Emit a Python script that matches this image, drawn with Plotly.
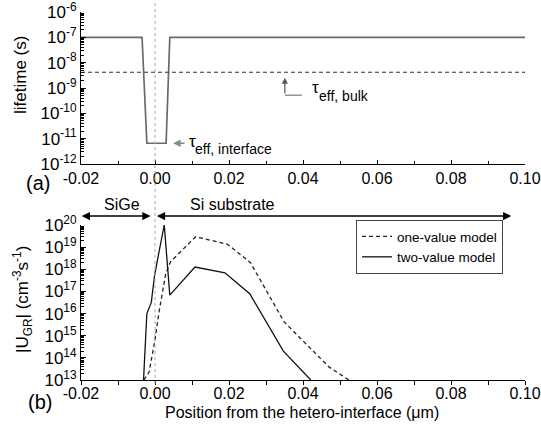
import plotly.graph_objects as go

# ---------------- data ----------------
# panel (a): lifetime profiles
x_tau = [-0.02, -0.0035, -0.0022, 0.0030, 0.0040, 0.10]
tau_two_value = [1e-7, 1e-7, 6.6e-12, 6.6e-12, 1e-7, 1e-7]
x_bulk = [-0.02, 0.10]
tau_bulk = [4.2e-9, 4.2e-9]

# panel (b): |U_GR| profiles
x_one = [-0.0030, -0.0016, -0.0001, 0.0011, 0.0029, 0.0042, 0.0110, 0.0196,
         0.0258, 0.0349, 0.0470, 0.0524]
ugr_one = [1.0e13, 2.3e13, 5.2e14, 1.2e16, 6.3e17, 2.2e18, 2.95e19, 1.35e19,
           2.0e18, 4.2e15, 3.9e13, 1.0e13]
x_two = [-0.0031, -0.0022, -0.0010, -0.0001, 0.0011, 0.0025, 0.0040, 0.0108,
         0.0189, 0.0256, 0.0347, 0.0421]
ugr_two = [1.0e13, 1.0e16, 3.2e16, 5.5e17, 6.3e18, 1.0e20, 6.8e16, 1.26e18,
           6.9e17, 7.9e16, 2.0e14, 1.0e13]

x_ticks = [-0.02, 0.00, 0.02, 0.04, 0.06, 0.08, 0.10]
x_ticklabels = ["-0.02", "0.00", "0.02", "0.04", "0.06", "0.08", "0.10"]
top_exps = [-12, -11, -10, -9, -8, -7, -6]
bot_exps = [13, 14, 15, 16, 17, 18, 19, 20]

# region arrows (x positions)
sige_span = [-0.0198, -0.0008]
si_span = [0.0005, 0.0967]
# tau_eff bulk marker
bulk_arrow_x = 0.0351
bulk_hook_x = [0.0351, 0.0397]
bulk_hook_y = [5.2e-10, 5.2e-10]

FONT = "Liberation Sans, Arial, sans-serif"
W, H = 541, 425


def minor_vals(exps):
    out = []
    for e in exps[:-1]:
        for m in range(2, 10):
            out.append(m * 10.0 ** e)
    return out


fig = go.Figure()

# panel (a)
fig.add_trace(go.Scatter(x=x_tau, y=tau_two_value, mode="lines",
                         line=dict(color="#6a6a6a", width=1.7), showlegend=False,
                         xaxis="x", yaxis="y"))
fig.add_trace(go.Scatter(x=x_bulk, y=tau_bulk, mode="lines",
                         line=dict(color="#333333", width=1.1, dash="4px,3px"),
                         showlegend=False, xaxis="x", yaxis="y"))
fig.add_trace(go.Scatter(x=bulk_hook_x, y=bulk_hook_y, mode="lines",
                         line=dict(color="#777777", width=1.2),
                         showlegend=False, xaxis="x", yaxis="y"))

# panel (b)
fig.add_trace(go.Scatter(x=x_one, y=ugr_one, mode="lines", name="one-value model",
                         line=dict(color="#222222", width=1.3, dash="4px,3px"),
                         xaxis="x2", yaxis="y2"))
fig.add_trace(go.Scatter(x=x_two, y=ugr_two, mode="lines", name="two-value model",
                         line=dict(color="#111111", width=1.3),
                         xaxis="x2", yaxis="y2"))

xdom = [81 / W, 525 / W]
ydom_top = [1 - 164 / H, 1 - 12 / H]
ydom_bot = [1 - 380 / H, 1 - 225 / H]

axis_common = dict(showline=True, linecolor="black", linewidth=1, showgrid=False,
                   zeroline=False, automargin=False, tickcolor="black",
                   ticklabeloverflow="allow")
xfont = dict(family=FONT, size=16, color="black")
yfont = dict(family=FONT, size=17, color="black")

fig.update_layout(
    template="none",
    width=W, height=H, margin=dict(l=0, r=0, t=0, b=0, pad=0),
    paper_bgcolor="white", plot_bgcolor="white",
    font=dict(family=FONT, color="black"),
    xaxis=dict(domain=xdom, range=[-0.02, 0.10], anchor="y", tickfont=xfont,
               tickvals=x_ticks, ticktext=x_ticklabels, ticks="inside", ticklen=4,
               minor=dict(dtick=0.01, tick0=0, ticks="inside", ticklen=3, tickcolor="black"),
               **axis_common),
    yaxis=dict(domain=ydom_top, type="log", range=[-12, -6], anchor="x", tickfont=yfont,
               tickvals=[10.0 ** e for e in top_exps],
               ticktext=["10<sup>%d</sup>" % e for e in top_exps],
               ticks="inside", ticklen=5,
               minor=dict(tickvals=minor_vals(top_exps), ticks="inside", ticklen=3,
                          tickcolor="black"),
               **axis_common),
    xaxis2=dict(domain=xdom, range=[-0.02, 0.10], anchor="y2", tickfont=xfont,
                tickvals=x_ticks, ticktext=x_ticklabels, ticks="outside", ticklen=4,
                ticklabelstandoff=-5,
                minor=dict(dtick=0.01, tick0=0, ticks="outside", ticklen=4, tickcolor="black"),
                **axis_common),
    yaxis2=dict(domain=ydom_bot, type="log", range=[13, 20], anchor="x2", tickfont=yfont,
                tickvals=[10.0 ** e for e in bot_exps],
                ticktext=["10<sup>%d</sup>" % e for e in bot_exps],
                ticks="inside", ticklen=5,
                minor=dict(tickvals=minor_vals(bot_exps), ticks="inside", ticklen=3,
                           tickcolor="black"),
                **axis_common),
    legend=dict(x=356 / W, y=1 - 220 / H, xanchor="left", yanchor="top",
                bgcolor="white", bordercolor="#444444", borderwidth=1,
                font=dict(family=FONT, size=13.5, color="black"),
                itemwidth=30, tracegroupgap=0),
    showlegend=True,
)

# vertical interface marker
fig.add_shape(type="line", xref="x", yref="paper", x0=0, x1=0,
              y0=1 - 384 / H, y1=1, line=dict(color="#aaaaaa", width=1, dash="3px,3px"))

C = dict(xanchor="center", yanchor="middle", showarrow=False, xref="paper", yref="paper")
ann = []
# panel labels
ann.append(dict(text="(a)", x=38 / W, y=1 - 183 / H, font=dict(size=20), **C))
ann.append(dict(text="(b)", x=40 / W, y=1 - 402 / H, font=dict(size=20), **C))
# axis titles
ann.append(dict(text="lifetime (s)", x=20 / W, y=1 - 75 / H, textangle=-90,
                font=dict(size=17), **C))
ann.append(dict(text="|U<sub>GR</sub>| (cm<sup>-3</sup>s<sup>-1</sup>)", x=22 / W,
                y=1 - 300 / H, textangle=-90, font=dict(size=17), **C))
ann.append(dict(text="Position from the hetero-interface (\u03bcm)", x=302 / W,
                y=1 - 412 / H, font=dict(size=16), **C))
# region labels and arrows
ann.append(dict(text="SiGe", x=122 / W, y=1 - 204 / H, font=dict(size=16), **C))
ann.append(dict(text="Si substrate", x=232 / W, y=1 - 204 / H, font=dict(size=16), **C))
for span in (sige_span, si_span):
    ann.append(dict(text="", x=span[0], y=1 - 216 / H, xref="x2", yref="paper",
                    ax=span[1], axref="x2", ay=0, ayref="pixel", showarrow=True,
                    arrowhead=2, arrowside="end+start", arrowsize=1.1, arrowwidth=1.5,
                    arrowcolor="black"))
# tau annotations
ann.append(dict(text="", x=0.0049, y=-11.18, xref="x", yref="y", ax=13, ay=0,
                showarrow=True, arrowhead=2, arrowsize=1, arrowwidth=1.5,
                arrowcolor="#888888"))
ann.append(dict(text="\u03c4", x=0.0086, y=-11.1, xref="x", yref="y",
                xanchor="left", yanchor="middle", showarrow=False, font=dict(size=17)))
ann.append(dict(text="eff, interface", x=0.0104, y=-11.42, xref="x", yref="y",
                xanchor="left", yanchor="middle", showarrow=False, font=dict(size=14)))
ann.append(dict(text="", x=bulk_arrow_x, y=-8.6, xref="x", yref="y", ax=0, ay=17,
                showarrow=True, arrowhead=2, arrowsize=1, arrowwidth=1.2,
                arrowcolor="#555555"))
ann.append(dict(text="\u03c4", x=0.0419, y=-9.0, xref="x", yref="y",
                xanchor="left", yanchor="middle", showarrow=False, font=dict(size=17)))
ann.append(dict(text="eff, bulk", x=0.0437, y=-9.3, xref="x", yref="y",
                xanchor="left", yanchor="middle", showarrow=False, font=dict(size=14)))
fig.update_layout(annotations=ann)

fig.write_html("out.html")
